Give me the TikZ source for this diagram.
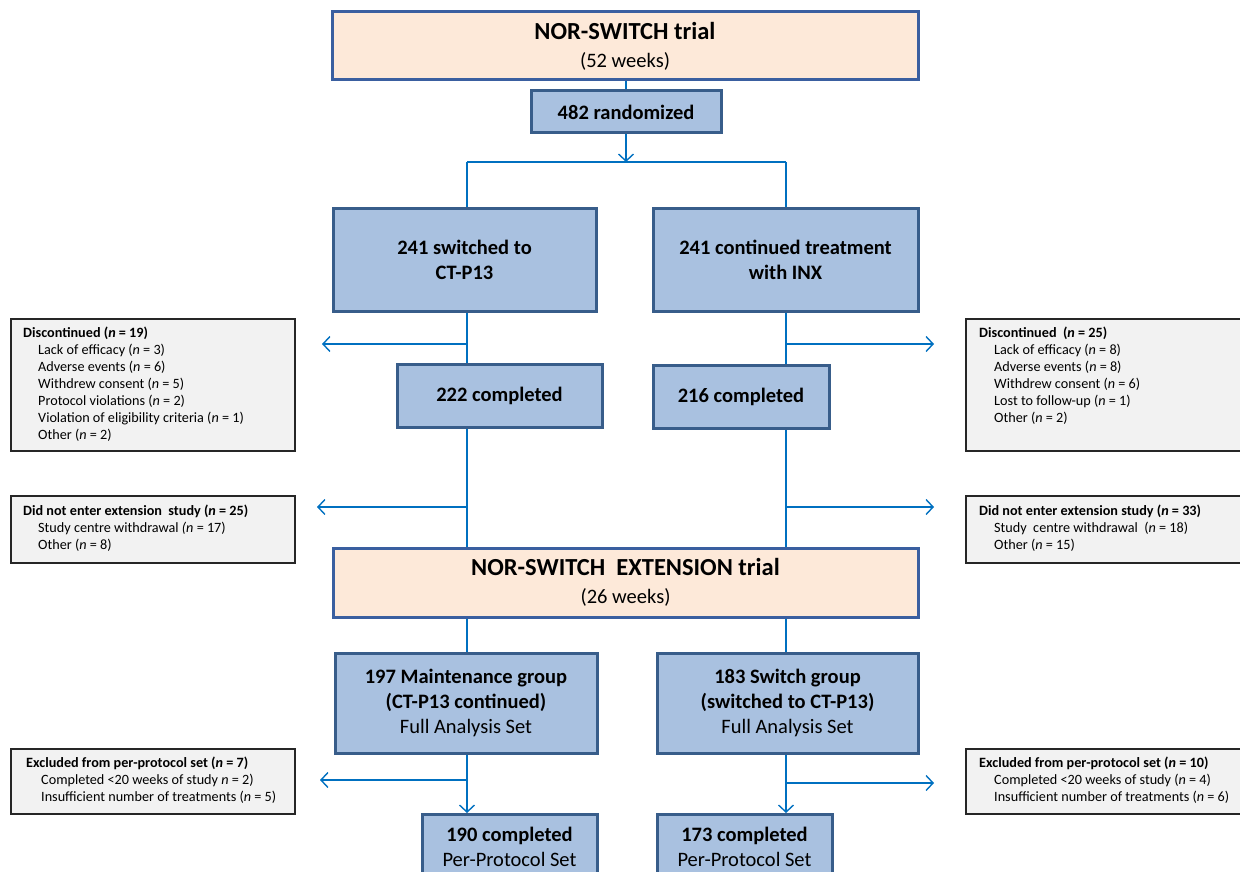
\documentclass[tikz,border=0pt]{standalone}
\usepackage{fontspec}
\setmainfont{Carlito}
\usetikzlibrary{arrows.meta}
\definecolor{peach}{RGB}{253,233,217}
\definecolor{boxblue}{RGB}{169,193,224}
\definecolor{edgeblue}{RGB}{56,93,138}
\definecolor{peachedge}{RGB}{58,95,160}
\definecolor{linkblue}{RGB}{0,112,192}
\definecolor{sidegray}{RGB}{242,242,242}
\begin{document}
\begin{tikzpicture}[x=1pt,y=-1pt,
  pbox/.style={draw=peachedge, line width=3pt, fill=peach, inner sep=0pt, align=center,
    font=\fontsize{20.5}{28}\selectfont},
  bbox/.style={draw=edgeblue, line width=3pt, fill=boxblue, inner sep=0pt, align=center,
    font=\fontsize{20.5}{25}\selectfont\bfseries},
  sbox/.style={draw=black!85, line width=1.8pt, fill=sidegray, inner sep=0pt},
  stext/.style={anchor=north west, align=left, inner sep=0pt, font=\fontsize{14.2}{17}\selectfont},
  link/.style={draw=linkblue, line width=1.4pt},
  arr/.style={link, -{Straight Barb[length=7pt,width=15pt,line width=1.4pt]}},
]
\useasboundingbox (0,0) rectangle (1240,872);
\clip (0,0) rectangle (1240,872);
\newcommand{\ind}{\hspace*{15pt}}

% main boxes
\node[pbox, minimum width=586pt, minimum height=68pt] (top) at (625,46)
  {{\fontsize{24.5}{28}\selectfont\bfseries NOR-SWITCH trial}\\(52 weeks)};
\node[bbox, minimum width=190pt, minimum height=42pt] (rand) at (626,112) {482 randomized};
\node[bbox, minimum width=263pt, minimum height=103pt] (s241) at (464.5,259.5) {241 switched to\\CT-P13};
\node[bbox, minimum width=265pt, minimum height=103pt] (c241) at (785.5,259.5) {241 continued treatment\\with INX};
\node[bbox, minimum width=205pt, minimum height=63pt] (c222) at (499.5,395.5) {222 completed};
\node[bbox, minimum width=176pt, minimum height=63pt] (c216) at (741,396.5) {216 completed};
\node[pbox, minimum width=585pt, minimum height=69pt] (ext) at (625.5,582.5)
  {{\fontsize{24.5}{28}\selectfont\bfseries NOR-SWITCH\ \ EXTENSION trial}\\(26 weeks)};
\node[bbox, minimum width=262pt, minimum height=100pt] (m197) at (466,703)
  {197 Maintenance group\\(CT-P13 continued)\\{\mdseries Full Analysis Set}};
\node[bbox, minimum width=261pt, minimum height=100pt] (s183) at (787.5,703)
  {183 Switch group\\(switched to CT-P13)\\{\mdseries Full Analysis Set}};
\node[bbox, minimum width=175pt, minimum height=64pt, anchor=north] (p190) at (509.5,813)
  {190 completed\\{\mdseries Per-Protocol Set}};
\node[bbox, minimum width=175pt, minimum height=64pt, anchor=north] (p173) at (744.5,813)
  {173 completed\\{\mdseries Per-Protocol Set}};

% side boxes
\node[sbox, minimum width=284pt, minimum height=132pt] (disL) at (153,385) {};
\node[stext] (disLt) at (23,327) {\textbf{Discontinued (\textit{n} = 19)}\\
  \ind Lack of efficacy (\textit{n} = 3)\\
  \ind Adverse events (\textit{n} = 6)\\
  \ind Withdrew consent (\textit{n} = 5)\\
  \ind Protocol violations (\textit{n} = 2)\\
  \ind Violation of eligibility criteria (\textit{n} = 1)\\
  \ind Other (\textit{n} = 2)};
\node[sbox, minimum width=284pt, minimum height=132pt] (disR) at (1108,385) {};
\node[stext] (disRt) at (979,327) {\textbf{Discontinued\ \ (\textit{n} = 25)}\\
  \ind Lack of efficacy (\textit{n} = 8)\\
  \ind Adverse events (\textit{n} = 8)\\
  \ind Withdrew consent (\textit{n} = 6)\\
  \ind Lost to follow-up (\textit{n} = 1)\\
  \ind Other (\textit{n} = 2)};

\node[sbox, minimum width=284pt, minimum height=67pt] (neL) at (153,529.5) {};
\node[stext] (neLt) at (23,505) {\textbf{Did not enter extension\ \ study (\textit{n} = 25)}\\
  \ind Study centre withdrawal \textit{(n} = 17)\\
  \ind Other (\textit{n} = 8)};
\node[sbox, minimum width=284pt, minimum height=67pt] (neR) at (1108,529.5) {};
\node[stext] (neRt) at (979,505) {\textbf{Did not enter extension study (\textit{n} = 33)}\\
  \ind Study\ \ centre withdrawal\ \ (\textit{n} = 18)\\
  \ind Other (\textit{n} = 15)};

\node[sbox, minimum width=284pt, minimum height=65pt] (exL) at (153,781.5) {};
\node[stext] (exLt) at (26,757) {\textbf{Excluded from per-protocol set (\textit{n} = 7)}\\
  \ind Completed <20 weeks of study \textit{n} = 2)\\
  \ind Insufficient number of treatments (\textit{n} = 5)};
\node[sbox, minimum width=284pt, minimum height=65pt] (exR) at (1108,781.5) {};
\node[stext] (exRt) at (979,757) {\textbf{Excluded from per-protocol set (\textit{n} = 10)}\\
  \ind Completed <20 weeks of study (\textit{n} = 4)\\
  \ind Insufficient number of treatments (\textit{n} = 6)};

% coordinates
\coordinate (xl) at (467,0);
\coordinate (xr) at (786,0);
\coordinate (split) at (626,162);
\coordinate (splitL) at (467,162);
\coordinate (splitR) at (786,162);
\coordinate (a1L) at (467,344);  \coordinate (a1Le) at (322,344);
\coordinate (a1R) at (786,344);  \coordinate (a1Re) at (934,344);
\coordinate (a2L) at (467,507);  \coordinate (a2Le) at (317,507);
\coordinate (a2R) at (786,507);  \coordinate (a2Re) at (934,507);
\coordinate (a3L) at (467,780);  \coordinate (a3Le) at (320,780);
\coordinate (a3R) at (786,783);  \coordinate (a3Re) at (934,783);

% connectors
\draw[link] (top.south -| rand.north) -- (rand.north);
\draw[arr] (rand.south) -- (split);
\draw[link] (splitL) -- (splitR);
\draw[link] (splitL) -- (xl |- s241.north);
\draw[link] (splitR) -- (xr |- c241.north);
\draw[link] (xl |- s241.south) -- (xl |- c222.north);
\draw[link] (xr |- c241.south) -- (xr |- c216.north);
\draw[arr] (a1L) -- (a1Le);
\draw[arr] (a1R) -- (a1Re);
\draw[link] (xl |- c222.south) -- (xl |- ext.north);
\draw[link] (xr |- c216.south) -- (xr |- ext.north);
\draw[arr] (a2L) -- (a2Le);
\draw[arr] (a2R) -- (a2Re);
\draw[link] (xl |- ext.south) -- (xl |- m197.north);
\draw[link] (xr |- ext.south) -- (xr |- s183.north);
\draw[arr] (xl |- m197.south) -- (xl |- p190.north);
\draw[arr] (xr |- s183.south) -- (xr |- p173.north);
\draw[arr] (a3L) -- (a3Le);
\draw[arr] (a3R) -- (a3Re);
\end{tikzpicture}
\end{document}
